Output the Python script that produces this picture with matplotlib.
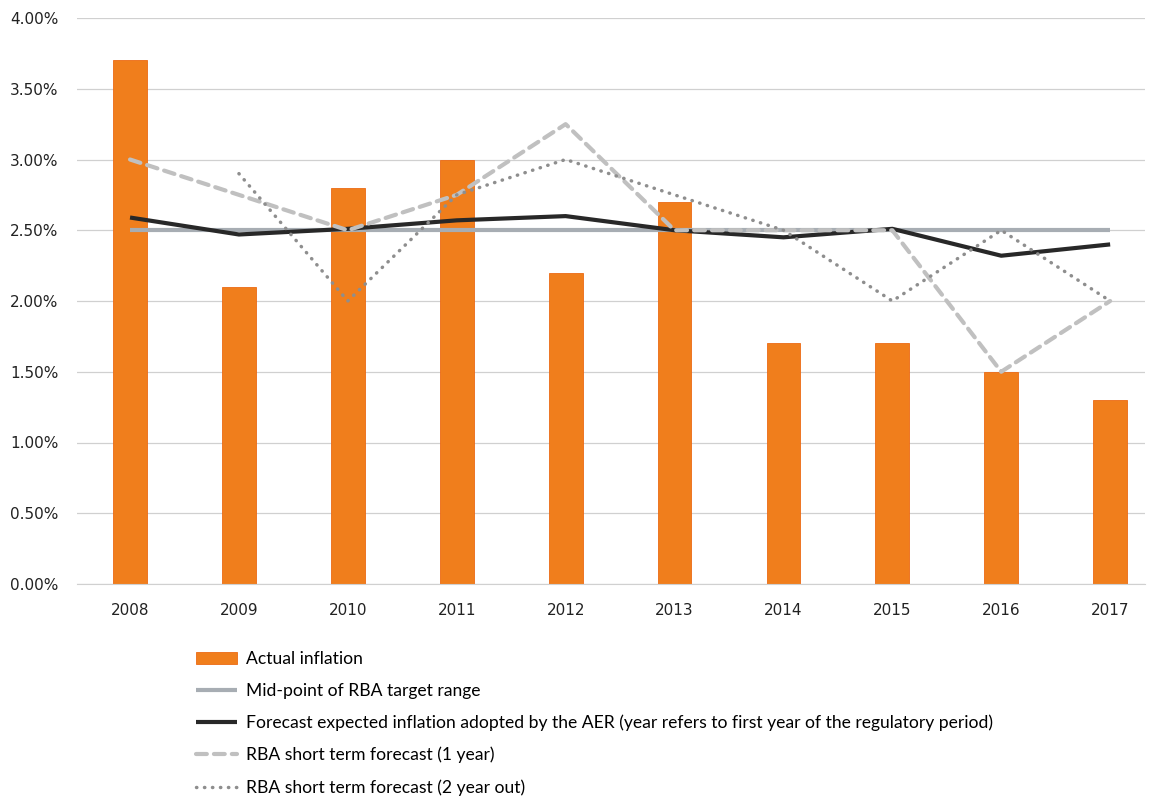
import matplotlib
matplotlib.use("Agg")
import matplotlib.pyplot as plt
from matplotlib.ticker import FuncFormatter, MultipleLocator
import numpy as np

years = ["2008", "2009", "2010", "2011", "2012", "2013", "2014", "2015", "2016", "2017"]
actual = [3.70, 2.10, 2.80, 3.00, 2.20, 2.70, 1.70, 1.70, 1.50, 1.30]
midpoint = [2.50, 2.50, 2.50, 2.50, 2.50, 2.50, 2.50, 2.50, 2.50, 2.50]
aer_forecast = [2.59, 2.47, 2.51, 2.57, 2.60, 2.50, 2.45, 2.51, 2.32, 2.40]
rba_1yr = [3.00, 2.75, 2.50, 2.75, 3.25, 2.50, 2.50, 2.50, 1.50, 2.00]
rba_2yr_years = ["2009", "2010", "2011", "2012", "2013", "2014", "2015", "2016", "2017"]
rba_2yr = [2.90, 2.00, 2.75, 3.00, 2.75, 2.50, 2.00, 2.50, 2.00]

labels = [
    "Actual inflation",
    "Mid-point of RBA target range",
    "Forecast expected inflation adopted by the AER (year refers to first year of the regulatory period)",
    "RBA short term forecast (1 year)",
    "RBA short term forecast (2 year out)",
]

fig = plt.figure(figsize=(11.55, 7.96), dpi=100)
ax = fig.add_axes([77 / 1155, 1 - 584 / 796, (1145 - 77) / 1155, (584 - 18) / 796])

x = np.arange(len(years))
x2 = np.array([years.index(y) for y in rba_2yr_years])

h_bar = ax.bar(x, actual, width=0.31, color="#F07E1C", edgecolor="#EC6A14", linewidth=0.6, zorder=2)
h_mid, = ax.plot(x, midpoint, color="#A7ADB3", lw=3, zorder=3, solid_capstyle="butt")
h_aer, = ax.plot(x, aer_forecast, color="#282828", lw=3, zorder=4, solid_capstyle="butt")
h_1yr, = ax.plot(x, rba_1yr, color="#C0C0C0", lw=3, ls=(0, (2.6, 1.7)), zorder=5, dash_capstyle="round")
h_2yr, = ax.plot(x2, rba_2yr, color="#8E8E8E", lw=2.5, ls=(0, (0.1, 2.2)), zorder=6, dash_capstyle="round")

ax.set_xlim(-0.487, 9.32)
ax.set_ylim(0, 4.0)
ax.yaxis.set_major_locator(MultipleLocator(0.5))
ax.yaxis.set_major_formatter(FuncFormatter(lambda v, p: f"{v:.2f}%"))
ax.set_xticks(x)
ax.set_xticklabels(years)
ax.grid(axis="y", color="#D0D0D0", lw=0.9, zorder=0)
ax.set_axisbelow(True)
for s in ["top", "right", "left"]:
    ax.spines[s].set_visible(False)
ax.spines["bottom"].set_color("#D0D0D0")
ax.tick_params(axis="both", length=0, labelsize=11, colors="#222222")
ax.tick_params(axis="x", pad=14)
ax.tick_params(axis="y", pad=13.5)

fig.legend([h_bar, h_mid, h_aer, h_1yr, h_2yr], labels,
           loc="upper left", bbox_to_anchor=(196 / 1155, 1 - 651 / 796),
           frameon=False, prop={"family": "Lato", "size": 12.6},
           labelspacing=0.9, handlelength=2.35, handletextpad=0.5,
           borderaxespad=0, borderpad=0)

fig.savefig("out.png", dpi=100)
